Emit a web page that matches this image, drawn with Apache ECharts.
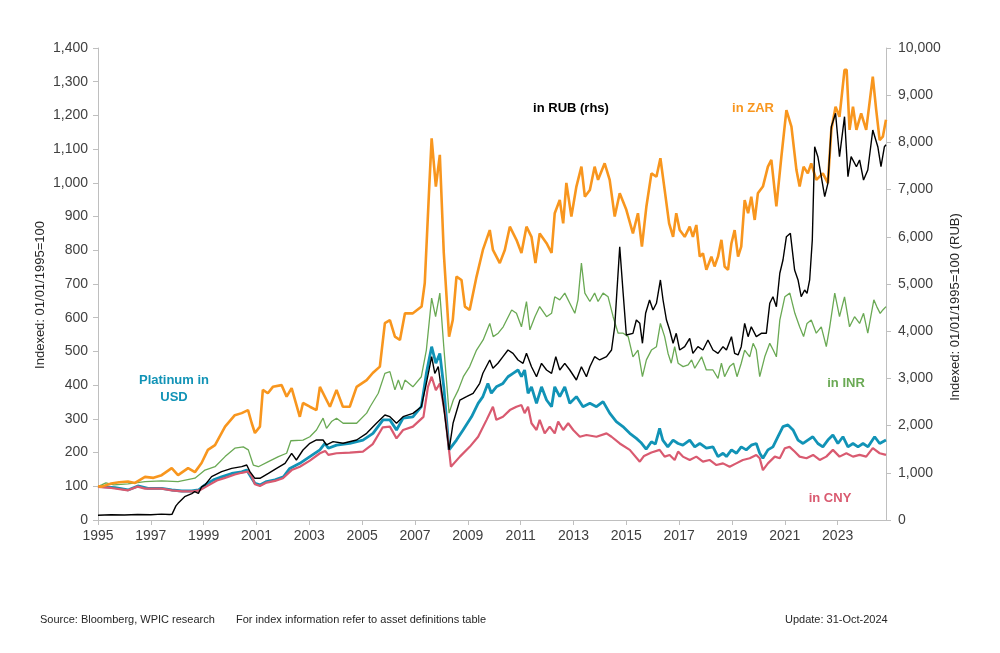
<!DOCTYPE html>
<html><head><meta charset="utf-8">
<script src="https://cdn.jsdelivr.net/npm/echarts@6/dist/echarts.min.js"></script>
<style>html,body{margin:0;padding:0;background:#fff}#c{width:1000px;height:653px}</style>
</head><body><div id="c"></div>
<script>
// Time values are years since 01-Jan-1995 (axis position), values are index levels.
const tickYears = [1995,1997,1999,2001,2003,2005,2007,2009,2011,2013,2015,2017,2019,2021,2023];
const axisEnd = 29.83; // Oct-2024

const usdPts = [[0,100],[0.14,99],[0.65,96],[1.135,89],[1.51,101],[1.89,94],[2.41,94],[2.79,89],[3.17,86],[3.55,86],[3.80,89],[4.05,104],[4.37,119],[4.68,128],[5.06,138],[5.44,143],[5.63,148],[5.75,133],[5.94,109],[6.13,104],[6.38,114],[6.70,119],[7.02,128],[7.26,153],[7.64,168],[8.02,188],[8.40,208],[8.59,227],[8.72,213],[9.03,222],[9.53,227],[10.03,237],[10.41,257],[10.79,297],[11.05,297],[11.30,267],[11.55,302],[11.92,306],[12.24,336],[12.43,435],[12.63,514],[12.79,465],[12.94,494],[13.09,395],[13.29,208],[13.57,237],[13.82,267],[14.14,306],[14.39,346],[14.57,366],[14.76,405],[14.89,376],[15.08,395],[15.33,405],[15.52,425],[15.71,435],[15.90,445],[16.03,425],[16.15,445],[16.28,376],[16.41,395],[16.60,346],[16.79,395],[16.98,356],[17.17,336],[17.29,395],[17.48,366],[17.67,395],[17.86,346],[18.11,366],[18.36,336],[18.62,346],[18.87,336],[19.12,351],[19.37,317],[19.62,292],[19.87,277],[20.13,257],[20.38,242],[20.55,230],[20.75,210],[20.95,232],[21.10,225],[21.26,272],[21.38,237],[21.57,217],[21.77,237],[21.96,227],[22.14,222],[22.40,237],[22.59,217],[22.78,227],[23.03,213],[23.28,217],[23.47,188],[23.66,198],[23.79,188],[23.98,208],[24.17,198],[24.35,217],[24.54,208],[24.73,222],[24.92,227],[25.05,198],[25.17,183],[25.36,208],[25.55,217],[25.74,247],[25.93,277],[26.12,282],[26.31,267],[26.50,237],[26.69,227],[26.87,237],[27.06,247],[27.25,227],[27.44,217],[27.63,237],[27.82,252],[28.01,227],[28.20,247],[28.39,217],[28.58,227],[28.77,217],[28.96,227],[29.15,217],[29.40,247],[29.59,227],[29.83,237]];

const cnyPts = [[0,98],[0.5,95],[1.135,88],[1.5,99],[1.78,93],[2.41,93],[2.79,88],[3.2,85],[3.6,85],[3.85,88],[4.16,102],[4.5,117],[4.81,125],[5.18,135],[5.44,140],[5.68,144],[5.82,130],[5.94,106],[6.13,101],[6.38,111],[6.7,116],[7.0,124],[7.33,148],[7.64,158],[8.02,176],[8.4,198],[8.6,205],[8.72,193],[9.03,198],[9.53,200],[10.03,203],[10.4,225],[10.78,275],[11.05,277],[11.30,242],[11.55,267],[11.92,277],[12.32,306],[12.49,395],[12.63,425],[12.79,385],[12.94,405],[13.13,317],[13.36,158],[13.70,188],[14.07,217],[14.39,247],[14.71,297],[14.95,336],[15.08,297],[15.33,306],[15.59,326],[15.84,336],[16.03,341],[16.15,317],[16.28,336],[16.41,287],[16.60,267],[16.72,297],[16.91,257],[17.10,277],[17.29,257],[17.42,292],[17.61,267],[17.80,287],[17.99,267],[18.24,247],[18.49,252],[18.87,247],[19.25,257],[19.44,247],[19.75,227],[20.13,208],[20.51,173],[20.67,190],[20.95,200],[21.26,208],[21.45,188],[21.64,193],[21.83,178],[21.96,203],[22.14,188],[22.40,178],[22.65,188],[22.90,173],[23.15,178],[23.41,163],[23.66,168],[23.91,158],[24.16,168],[24.41,178],[24.67,183],[24.92,193],[25.05,183],[25.17,148],[25.36,168],[25.62,188],[25.81,183],[26.00,213],[26.18,217],[26.37,203],[26.56,188],[26.82,183],[27.07,193],[27.32,178],[27.57,188],[27.82,208],[28.07,188],[28.33,198],[28.58,188],[28.83,193],[29.08,188],[29.33,213],[29.59,198],[29.83,193]];

const inrPts = [[0,100],[0.14,104],[0.3,110],[0.6,104],[1.135,107],[1.78,114],[2.41,116],[3.03,114],[3.67,124],[4.05,148],[4.43,158],[4.81,188],[5.18,213],[5.50,217],[5.69,208],[5.88,163],[6.07,158],[6.45,173],[6.83,188],[7.14,198],[7.30,235],[7.76,237],[8.02,247],[8.27,267],[8.52,302],[8.65,272],[8.84,292],[9.03,302],[9.28,287],[9.79,287],[10.17,317],[10.30,336],[10.61,376],[10.86,435],[11.05,440],[11.24,386],[11.37,415],[11.50,386],[11.62,415],[11.92,395],[12.24,425],[12.43,504],[12.63,658],[12.78,603],[12.94,673],[13.09,514],[13.29,317],[13.45,356],[13.64,386],[13.83,425],[14.07,455],[14.33,504],[14.58,534],[14.83,583],[14.96,544],[15.15,554],[15.34,573],[15.66,623],[15.84,613],[16.03,573],[16.22,648],[16.35,564],[16.54,603],[16.72,633],[16.98,603],[17.17,613],[17.29,662],[17.48,653],[17.67,673],[17.86,643],[18.05,613],[18.17,653],[18.30,762],[18.43,673],[18.62,648],[18.80,673],[18.93,648],[19.12,673],[19.31,662],[19.50,603],[19.69,554],[19.88,554],[20.07,544],[20.25,484],[20.44,504],[20.61,425],[20.76,475],[20.95,504],[21.14,514],[21.29,583],[21.45,544],[21.58,494],[21.70,465],[21.83,514],[21.96,465],[22.15,455],[22.34,460],[22.47,475],[22.59,450],[22.85,484],[23.03,445],[23.28,445],[23.47,420],[23.60,465],[23.72,425],[23.91,455],[24.06,465],[24.19,425],[24.35,465],[24.48,504],[24.67,484],[24.80,524],[24.92,504],[25.05,425],[25.24,484],[25.43,524],[25.56,504],[25.68,484],[25.81,593],[26.00,662],[26.19,673],[26.38,613],[26.56,573],[26.71,544],[26.84,583],[27.00,593],[27.19,554],[27.38,573],[27.57,514],[27.70,573],[27.89,673],[28.07,603],[28.26,662],[28.45,573],[28.64,603],[28.83,583],[28.98,613],[29.14,554],[29.37,653],[29.48,633],[29.61,613],[29.71,623],[29.83,633]];

const zarPts = [[0,100],[0.14,99],[0.5,108],[0.8,112],[1.135,114],[1.4,110],[1.78,128],[2.1,125],[2.41,133],[2.79,154],[3.03,133],[3.41,154],[3.67,142],[3.92,169],[4.16,208],[4.43,222],[4.81,277],[5.18,311],[5.44,317],[5.68,326],[5.82,287],[5.94,258],[6.13,277],[6.24,386],[6.43,376],[6.62,395],[6.95,400],[7.14,366],[7.33,391],[7.64,306],[7.76,347],[8.02,336],[8.27,326],[8.40,395],[8.78,336],[9.03,386],[9.27,336],[9.53,336],[9.79,395],[10.17,415],[10.40,436],[10.67,455],[10.86,584],[11.05,593],[11.24,544],[11.43,534],[11.62,613],[11.92,613],[12.25,633],[12.37,703],[12.54,989],[12.63,1132],[12.79,989],[12.94,1083],[13.09,792],[13.29,544],[13.43,593],[13.57,722],[13.76,712],[13.89,633],[14.07,623],[14.33,722],[14.57,801],[14.83,860],[14.95,801],[15.21,762],[15.40,801],[15.59,870],[15.84,831],[16.03,792],[16.22,870],[16.41,840],[16.56,762],[16.72,850],[16.98,821],[17.17,792],[17.29,910],[17.48,949],[17.61,880],[17.73,1000],[17.92,900],[18.11,989],[18.30,1048],[18.43,959],[18.62,979],[18.80,1048],[18.93,1009],[19.18,1058],[19.37,1009],[19.56,900],[19.75,969],[20.00,920],[20.25,850],[20.44,910],[20.59,811],[20.76,930],[20.95,1028],[21.14,1018],[21.29,1073],[21.45,980],[21.62,880],[21.77,840],[21.89,910],[22.02,860],[22.21,840],[22.40,870],[22.52,840],[22.65,875],[22.78,781],[22.90,791],[23.03,742],[23.22,781],[23.34,752],[23.47,781],[23.60,831],[23.72,752],[23.85,742],[23.98,821],[24.10,860],[24.23,781],[24.35,811],[24.48,949],[24.61,910],[24.73,959],[24.86,890],[24.98,969],[25.17,989],[25.36,1048],[25.49,1068],[25.68,930],[25.87,1078],[26.06,1216],[26.25,1167],[26.44,1038],[26.56,989],[26.71,1048],[26.87,1028],[27.00,1058],[27.19,1009],[27.44,1028],[27.63,999],[27.76,1157],[27.92,1226],[28.07,1196],[28.26,1335],[28.34,1335],[28.45,1157],[28.58,1226],[28.71,1157],[28.89,1206],[29.08,1157],[29.33,1315],[29.46,1216],[29.59,1127],[29.71,1137],[29.83,1187]];

const rubPts = [[0,100],[0.5,110],[1.0,105],[1.5,118],[2.0,110],[2.4,125],[2.7,115],[2.8,120],[2.95,300],[3.03,353],[3.28,494],[3.55,560],[3.66,600],[3.80,565],[3.92,700],[4.05,742],[4.30,918],[4.68,1024],[5.06,1095],[5.44,1130],[5.63,1165],[5.75,1024],[5.94,883],[6.13,883],[6.45,989],[6.76,1095],[7.08,1200],[7.33,1412],[7.51,1271],[7.76,1483],[8.02,1625],[8.27,1695],[8.52,1695],[8.65,1589],[8.90,1660],[9.28,1625],[9.79,1695],[10.17,1837],[10.54,2049],[10.86,2225],[11.05,2189],[11.30,2049],[11.55,2189],[11.92,2260],[12.24,2400],[12.43,2896],[12.63,3460],[12.75,3108],[12.88,3248],[13.07,2472],[13.29,1483],[13.44,2049],[13.70,2542],[13.95,2612],[14.20,2684],[14.45,2896],[14.57,3108],[14.83,3390],[14.95,3214],[15.14,3320],[15.33,3460],[15.52,3602],[15.71,3531],[15.90,3390],[16.09,3320],[16.22,3531],[16.41,3248],[16.60,3036],[16.79,3320],[16.98,3178],[17.17,3108],[17.33,3460],[17.48,3178],[17.67,3320],[17.86,3178],[18.11,2966],[18.30,3248],[18.49,3036],[18.62,3248],[18.80,3460],[18.99,3390],[19.25,3460],[19.44,3602],[19.56,4095],[19.75,5790],[19.88,4803],[20.00,3919],[20.25,3955],[20.38,4237],[20.51,4167],[20.61,3744],[20.73,4379],[20.88,4661],[21.01,4449],[21.14,4591],[21.29,5085],[21.39,4661],[21.52,4237],[21.64,4025],[21.77,3744],[21.89,3955],[22.02,3602],[22.21,3672],[22.40,3849],[22.52,3531],[22.71,3672],[22.90,3602],[23.09,3814],[23.28,3602],[23.47,3531],[23.66,3672],[23.79,3602],[23.98,3884],[24.10,3531],[24.23,3496],[24.35,3672],[24.48,4167],[24.61,3884],[24.73,4095],[24.92,3884],[25.11,3955],[25.30,3955],[25.43,4591],[25.55,4731],[25.68,4519],[25.81,5227],[25.93,5508],[26.06,6002],[26.21,6074],[26.37,5297],[26.50,5085],[26.62,4731],[26.75,4873],[26.84,4803],[26.94,5085],[27.04,5932],[27.13,7909],[27.25,7697],[27.38,7274],[27.51,6850],[27.63,7133],[27.76,8333],[27.92,8616],[28.07,7697],[28.26,8545],[28.39,7274],[28.51,7697],[28.71,7485],[28.83,7627],[28.98,7203],[29.14,7415],[29.33,8263],[29.52,7909],[29.64,7485],[29.77,7909],[29.83,7950]];

const C = {usd:'#1193b6', cny:'#d95a70', inr:'#6aa954', zar:'#f8961e', rub:'#000000'};
const FONT = '"Liberation Sans", Arial, sans-serif';
const tickVals = tickYears.map(y => y - 1995);

const chart = echarts.init(document.getElementById('c'), null, {renderer:'canvas'});
const axisLineStyle = {lineStyle:{color:'#bfbfbf', width:1}};
const labelStyle = {color:'#404040', fontSize:14, fontFamily:FONT};
chart.setOption({
  animation:false,
  backgroundColor:'#fff',
  grid:{left:98, right:114, top:48, bottom:133, containLabel:false},
  xAxis:{type:'value', min:0, max:axisEnd, interval:2,
    axisLine:{show:true, onZero:false, ...axisLineStyle},
    axisTick:{show:true, length:5, inside:false, customValues:tickVals, lineStyle:{color:'#bfbfbf'}},
    axisLabel:{...labelStyle, margin:9, customValues:tickVals, formatter:v => String(Math.round(1995+v))},
    splitLine:{show:false}},
  yAxis:[
    {type:'value', min:0, max:1400, interval:100, position:'left',
      axisLine:{show:true, ...axisLineStyle},
      axisTick:{show:true, length:5, lineStyle:{color:'#bfbfbf'}},
      axisLabel:{...labelStyle, margin:10}, splitLine:{show:false}},
    {type:'value', min:0, max:10000, interval:1000, position:'right',
      axisLine:{show:true, ...axisLineStyle},
      axisTick:{show:true, length:5, lineStyle:{color:'#bfbfbf'}},
      axisLabel:{...labelStyle, margin:12}, splitLine:{show:false}}
  ],
  series:[
    {name:'USD', type:'line', data:usdPts, symbol:'none', lineStyle:{color:C.usd, width:2.8}, z:2},
    {name:'CNY', type:'line', data:cnyPts, symbol:'none', lineStyle:{color:C.cny, width:2.2}, z:3},
    {name:'INR', type:'line', data:inrPts, symbol:'none', lineStyle:{color:C.inr, width:1.3}, z:4},
    {name:'ZAR', type:'line', data:zarPts, symbol:'none', lineStyle:{color:C.zar, width:2.6}, z:5},
    {name:'RUB', type:'line', yAxisIndex:1, data:rubPts, symbol:'none', lineStyle:{color:C.rub, width:1.4}, z:6}
  ],
  graphic:[
    {type:'text', x:40, y:295, rotation:Math.PI/2, style:{text:'Indexed: 01/01/1995=100', fill:'#262626', font:'13px '+FONT, align:'center', verticalAlign:'middle'}},
    {type:'text', x:955, y:307, rotation:Math.PI/2, style:{text:'Indexed: 01/01/1995=100 (RUB)', fill:'#262626', font:'13px '+FONT, align:'center', verticalAlign:'middle'}},
    {type:'text', x:174, y:380, style:{text:'Platinum in', fill:C.usd, font:'bold 13px '+FONT, align:'center', verticalAlign:'middle'}},
    {type:'text', x:174, y:397, style:{text:'USD', fill:C.usd, font:'bold 13px '+FONT, align:'center', verticalAlign:'middle'}},
    {type:'text', x:571, y:108, style:{text:'in RUB (rhs)', fill:'#000', font:'bold 13px '+FONT, align:'center', verticalAlign:'middle'}},
    {type:'text', x:753, y:108, style:{text:'in ZAR', fill:C.zar, font:'bold 13px '+FONT, align:'center', verticalAlign:'middle'}},
    {type:'text', x:846, y:383, style:{text:'in INR', fill:C.inr, font:'bold 13px '+FONT, align:'center', verticalAlign:'middle'}},
    {type:'text', x:830, y:498, style:{text:'in CNY', fill:C.cny, font:'bold 13px '+FONT, align:'center', verticalAlign:'middle'}},
    {type:'text', x:40, y:620, style:{text:'Source: Bloomberg, WPIC research', fill:'#262626', font:'11px "Liberation Sans Narrow", '+FONT, verticalAlign:'middle'}},
    {type:'text', x:236, y:620, style:{text:'For index information refer to asset definitions table', fill:'#262626', font:'11px "Liberation Sans Narrow", '+FONT, verticalAlign:'middle'}},
    {type:'text', x:785, y:620, style:{text:'Update: 31-Oct-2024', fill:'#262626', font:'11px "Liberation Sans Narrow", '+FONT, verticalAlign:'middle'}}
  ]
});
</script></body></html>
